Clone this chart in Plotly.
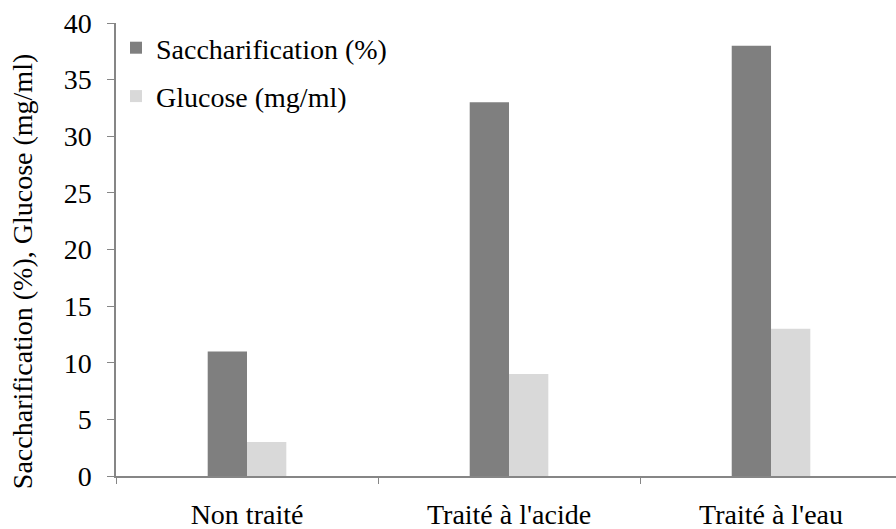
import plotly.graph_objects as go

categories = ["Non traité", "Traité à l'acide", "Traité à l'eau"]
saccharification = [11, 33, 38]
glucose = [3, 9, 13]
y_ticks = [0, 5, 10, 15, 20, 25, 30, 35, 40]
y_title = "Saccharification (%), Glucose (mg/ml)"

serif = "Times New Roman, Liberation Serif, serif"
axis_gray = "#868686"
text_font = dict(family=serif, size=28, color="black")

fig = go.Figure()
fig.add_trace(go.Bar(
    x=categories, y=saccharification, name="Saccharification (%)",
    marker=dict(color="#7f7f7f", line=dict(width=0)), legendgroup="a",
))
fig.add_trace(go.Bar(
    x=categories, y=glucose, name="Glucose (mg/ml)",
    marker=dict(color="#d9d9d9", line=dict(width=0)), legendgroup="b",
))

# vertical axis title, set a little below the middle of the axis
fig.add_annotation(
    text=y_title, textangle=-90, font=text_font,
    xref="paper", yref="paper", x=0, y=0.45,
    xanchor="center", yanchor="middle", xshift=-94, showarrow=False,
)

fig.update_layout(
    width=896, height=529,
    margin=dict(l=116, r=0, t=23, b=53),
    paper_bgcolor="white", plot_bgcolor="white",
    font=text_font,
    barmode="group", bargap=0.7, bargroupgap=0,
    showlegend=True,
    legend=dict(
        x=0.0, y=1.0, xanchor="left", yanchor="top",
        bgcolor="rgba(0,0,0,0)", font=text_font,
        tracegroupgap=9, traceorder="grouped",
    ),
    xaxis=dict(
        range=[-0.5, 2.477], tickson="boundaries",
        showline=True, linecolor=axis_gray, linewidth=1.5,
        ticks="outside", ticklen=6, tickcolor=axis_gray, tickwidth=1,
        tickfont=text_font,
        ticklabelstandoff=13, showgrid=False, zeroline=False,
    ),
    yaxis=dict(
        range=[0, 40], tickvals=y_ticks,
        showline=True, linecolor=axis_gray, linewidth=1.5,
        ticks="outside", ticklen=7, tickcolor=axis_gray, tickwidth=1,
        tickfont=text_font,
        ticklabelstandoff=10, showgrid=False, zeroline=False,
    ),
)

fig.write_html("out.html")
